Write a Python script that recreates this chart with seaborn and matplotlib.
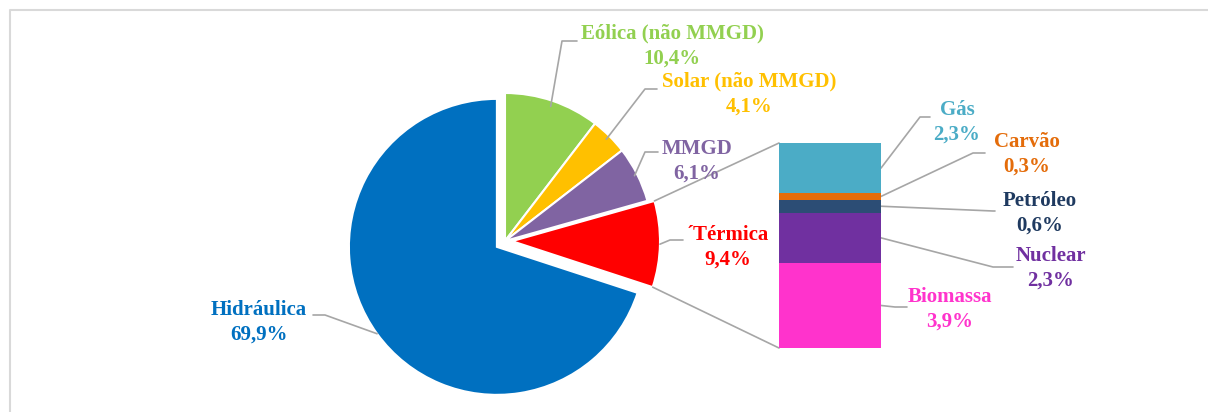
import numpy as np
import matplotlib
matplotlib.use("Agg")
import matplotlib.pyplot as plt
import seaborn as sns

sns.set_theme(style="white")
plt.rcParams['font.family'] = ['Liberation Serif', 'DejaVu Serif']

# data
pie_labels = ["Eólica (não MMGD)", "Solar (não MMGD)", "MMGD", "´Térmica", "Hidráulica"]
pie_values = [10.4, 4.1, 6.1, 9.4, 69.9]
pie_colors = ["#92D050", "#FFC000", "#8064A2", "#FF0000", "#0070C0"]

bar_labels = ["Biomassa", "Nuclear", "Petróleo", "Carvão", "Gás"]
bar_values = [3.9, 2.3, 0.6, 0.3, 2.3]
bar_colors = ["#FF33CC", "#7030A0", "#2C4D75", "#E46C0A", "#4BACC6"]
bar_text_colors = ["#FF33CC", "#7030A0", "#1F3A60", "#E46C0A", "#4BACC6"]

W, H = 1208, 412
LINE = "#a6a6a6"


def pct(v):
    return f"{v:.1f}".replace(".", ",") + "%"


fig = plt.figure(figsize=(W / 100, H / 100), dpi=100)
ax = fig.add_axes([0, 0, 1, 1])

# explode is in data units (pixels here)
wedges, _ = ax.pie(pie_values, colors=pie_colors, explode=[0, 0, 0, 7, 10],
                   startangle=90, counterclock=False, center=(505, H - 241), radius=148,
                   wedgeprops=dict(edgecolor="white", linewidth=1.5), frame=True)
ax.set_xlim(0, W)
ax.set_ylim(0, H)
ax.set_aspect("equal")
ax.axis("off")

# outer frame
ax.plot([10, 10, W + 5], [-5, H - 10, H - 10], color="#d9d9d9", lw=1.5)


def img(p):
    return p[0], H - p[1]


def edge_point(w, frac=1.0):
    ang = np.deg2rad((w.theta1 + w.theta2) / 2)
    return w.center[0] + w.r * frac * np.cos(ang), w.center[1] + w.r * frac * np.sin(ang)


# pie label placement (image pixel coords): text centre, leader elbow
pie_text_pos = [(672, 46), (749, 94), (697, 161), (728, 247), (259, 322)]
pie_elbows = [[(577, 41), (562, 41)], [(657, 89), (645, 89)], [(658, 152), (645, 152)],
              [(683, 240), (670, 240)], [(313, 315), (325, 315)]]
pie_edge_frac = [0.96, 0.97, 0.98, 1.0, 1.0]

for i, w in enumerate(wedges):
    ex, ey = edge_point(w, pie_edge_frac[i])
    pts = [img(p) for p in pie_elbows[i]] + [(ex, ey)]
    ax.plot([p[0] for p in pts], [p[1] for p in pts], color=LINE, lw=1.2, zorder=1)
    tx, ty = img(pie_text_pos[i])
    ax.text(tx, ty, pie_labels[i] + "\n" + pct(pie_values[i]), color=pie_colors[i],
            fontsize=15, fontweight="bold", ha="center", va="center", linespacing=1.3)

# stacked bar of the thermal breakdown
bax = fig.add_axes([779 / W, (H - 348) / H, 102 / W, 205 / H])
cum = np.cumsum(bar_values)
for i in reversed(range(len(bar_values))):
    sns.barplot(x=["Térmica"], y=[cum[i]], color=bar_colors[i], width=1, saturation=1,
                linewidth=0, errorbar=None, ax=bax)
bax.set_xlim(-0.5, 0.5)
bax.set_ylim(0, cum[-1])
bax.axis("off")

to_main = ax.transData.inverted()

# connectors from the red slice to the bar
term = wedges[3]
for theta, ay in [(term.theta2, 1), (term.theta1, 0)]:
    px = term.center[0] + term.r * np.cos(np.deg2rad(theta))
    py = term.center[1] + term.r * np.sin(np.deg2rad(theta))
    bx, by = to_main.transform(bax.transAxes.transform((0, ay)))
    ax.plot([px, bx], [py, by], color=LINE, lw=1.2, zorder=1)

bar_text_pos = [(950, 309), (1051, 268), (1040, 213), (1027, 154), (957, 122)]
bar_elbows = [[(895, 307), (907, 307)], [(993, 267), (1013, 267)], [(993, 211), (995, 211)],
              [(973, 153), (985, 153)], [(920, 117), (930, 117)]]
bottoms = cum - np.array(bar_values)
for i in range(len(bar_values)):
    mid = bottoms[i] + bar_values[i] / 2
    sx, sy = to_main.transform(bax.transData.transform((0.5, mid)))
    pts = [(sx, sy)] + [img(p) for p in bar_elbows[i]]
    ax.plot([p[0] for p in pts], [p[1] for p in pts], color=LINE, lw=1.2, zorder=1)
    tx, ty = img(bar_text_pos[i])
    ax.text(tx, ty, bar_labels[i] + "\n" + pct(bar_values[i]), color=bar_text_colors[i],
            fontsize=15, fontweight="bold", ha="center", va="center", linespacing=1.3)

fig.savefig("out.png", dpi=100)
